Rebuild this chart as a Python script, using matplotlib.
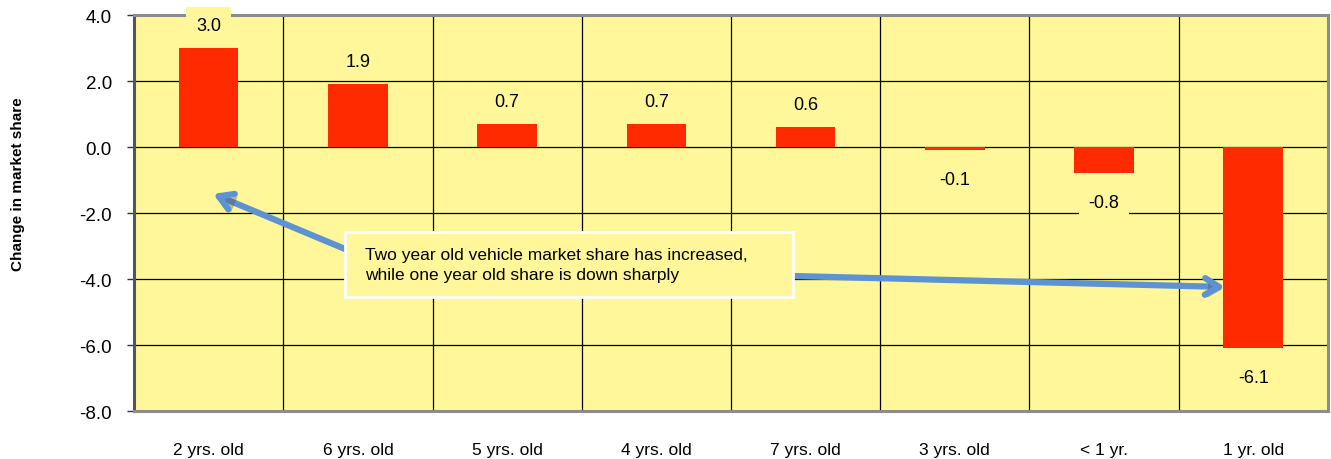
import matplotlib.pyplot as plt
import numpy as np
from matplotlib.patches import Rectangle
import matplotlib.patheffects as pe

# 数据
categories = ["2 yrs. old", "6 yrs. old", "5 yrs. old", "4 yrs. old",
              "7 yrs. old", "3 yrs. old", "< 1 yr.", "1 yr. old"]
share_change = [3.0, 1.9, 0.7, 0.7, 0.6, -0.1, -0.8, -6.1]
y_ticks = [4.0, 2.0, 0.0, -2.0, -4.0, -6.0, -8.0]
note = "Two year old vehicle market share has increased,\nwhile one year old share is down sharply"

narrow = ["Liberation Sans Narrow", "Liberation Sans", "DejaVu Sans"]
bg = "#FFF799"
bar_c = "#FF2A00"
arrow_c = "#5E93D3"

fig = plt.figure(figsize=(13.31, 4.6), dpi=100)
ax = fig.add_axes([0.1007, 0.1043, 0.897, 0.8607])
ax.set_facecolor(bg)

x = np.arange(len(categories))
ax.bar(x, share_change, width=0.4, color=bar_c, zorder=3)

ax.set_xlim(-0.5, len(categories) - 0.5)
ax.set_ylim(-8, 4)
ax.set_yticks(y_ticks)
ax.set_yticklabels(["%.1f" % v for v in y_ticks], fontsize=13.5, family="Liberation Sans")
ax.set_xticks(x)
ax.set_xticklabels(categories, fontsize=12.5, family=narrow)
ax.set_xticks(np.arange(0.5, len(categories) - 1, 1), minor=True)
ax.tick_params(axis="x", which="both", length=0, pad=22)
ax.tick_params(axis="y", length=5, width=1, color="#333333", pad=11)

ax.grid(axis="y", which="major", color="black", lw=0.9, zorder=1)
ax.grid(axis="x", which="minor", color="black", lw=0.9, zorder=1)
for s in ax.spines.values():
    s.set_color("#8c8c8c")
    s.set_linewidth(2.2)
ax.spines["left"].set_color("#555555")

# 数值标签
for xi, v in zip(x, share_change):
    off = 16.5 if v > 0 else -21
    ax.annotate("%.1f" % v, (xi, v), xytext=(0, off), textcoords="offset points",
                ha="center", va="center", fontsize=13, family=narrow,
                bbox=dict(boxstyle="square,pad=0.55", fc=bg, ec="none"),
                zorder=5, annotation_clip=False)

fig.text(0.0135, 0.6, "Change in market share", rotation=90, ha="center", va="center",
         fontsize=11, fontweight="bold", family=narrow)

# 说明框和箭头
shadow = [pe.SimplePatchShadow(offset=(2, -2), alpha=0.35), pe.Normal()]
ax.add_patch(Rectangle((0.914, -4.55), 3.0, 1.97, fc=bg, ec="white", lw=2, zorder=6))
ax.text(1.05, -3.56, note, fontsize=12.5, family=narrow, va="center", ha="left",
        linespacing=1.45, zorder=7)
ax.annotate("", xy=(0.03, -1.42), xytext=(0.914, -3.09),
            arrowprops=dict(arrowstyle="->,head_length=1.0,head_width=0.6", color=arrow_c,
                            lw=4.5, shrinkA=0, shrinkB=0, path_effects=shadow), zorder=5)
ax.annotate("", xy=(6.81, -4.24), xytext=(3.93, -3.91),
            arrowprops=dict(arrowstyle="->,head_length=1.0,head_width=0.6", color=arrow_c,
                            lw=4.5, shrinkA=0, shrinkB=0, path_effects=shadow), zorder=5)

fig.savefig("out.png", dpi=100)
